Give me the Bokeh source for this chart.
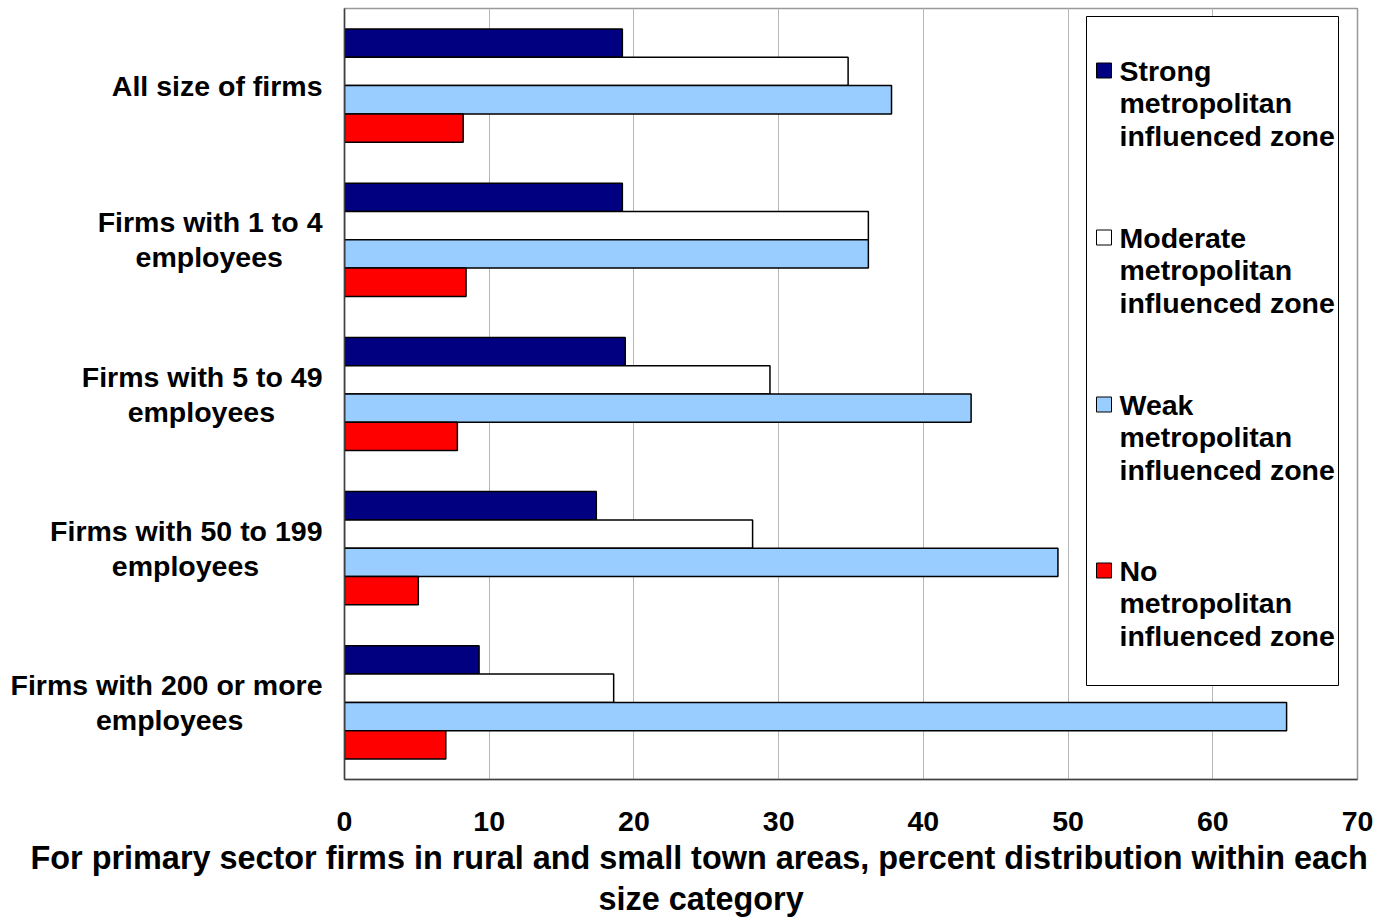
from bokeh.plotting import figure
from bokeh.models import (Range1d, Label, FixedTicker, ColumnDataSource,
                          CustomJSTickFormatter, Title)
from bokeh.transform import dodge
from bokeh.embed import file_html
from bokeh.resources import INLINE

# ---------------- data ----------------
category_lines = [
    ["All size of firms"],
    ["Firms with 1 to 4", "employees"],
    ["Firms with 5 to 49", "employees"],
    ["Firms with 50 to 199", "employees"],
    ["Firms with 200 or more", "employees"],
]
series_lines = [
    ["Strong", "metropolitan", "influenced zone"],
    ["Moderate", "metropolitan", "influenced zone"],
    ["Weak", "metropolitan", "influenced zone"],
    ["No", "metropolitan", "influenced zone"],
]
strong = [19.2, 19.2, 19.4, 17.4, 9.3]
moderate = [34.8, 36.2, 29.4, 28.2, 18.6]
weak = [37.8, 36.2, 43.3, 49.3, 65.1]
no_zone = [8.2, 8.4, 7.8, 5.1, 7.0]
x_ticks = [0, 10, 20, 30, 40, 50, 60, 70]
title_lines = [
    "For primary sector firms in rural and small town areas, percent distribution within each",
    "size category",
]

colors = ["#000080", "#ffffff", "#99ccff", "#ff0000"]
series_values = [strong, moderate, weak, no_zone]

# ---------------- layout ----------------
W, H = 1388, 918
FL, FR, FT, FB = 344, 1357, 8, 779
XMAX = 70
N = len(category_lines)
FONT = "Liberation Sans"
FS = "28.5px"
TFS = "32.4px"
PX_PER_UNIT = (FB - FT) / N

def dx(px):
    return (px - FL) / (FR - FL) * XMAX

def dy(py):
    return (FB - py) / (FB - FT) * N

p = figure(width=W, height=H, output_backend="svg", toolbar_location=None,
           x_range=Range1d(0, XMAX), y_range=Range1d(0, N),
           min_border_left=FL, min_border_right=W - FR,
           min_border_top=FT, min_border_bottom=H - FB)
p.background_fill_color = "white"
p.border_fill_color = "white"
p.outline_line_color = "#999999"
p.outline_line_width = 1.5

p.xaxis.ticker = FixedTicker(ticks=x_ticks)
p.xaxis.major_tick_line_color = None
p.xaxis.minor_tick_line_color = None
p.xaxis.major_tick_out = 0
p.xaxis.major_tick_in = 0
p.xaxis.major_label_standoff = 32
p.xaxis.major_label_text_font = FONT
p.xaxis.major_label_text_font_style = "bold"
p.xaxis.major_label_text_font_size = FS
p.xaxis.major_label_text_color = "black"
p.xaxis.axis_line_color = "#404040"
p.xaxis.axis_line_width = 1.5

# category labels as y-axis tick labels, one tick per text line
ypos = [N - 0.5 - i for i in range(N)]
LINE_GAP = 35 / PX_PER_UNIT
# non-breaking-space padding so that short second lines sit centred under the first
pads = [0, 5, 6, 8, 10]
ticks, texts = [], []
for i, lines in enumerate(category_lines):
    n = len(lines)
    for j, t in enumerate(lines):
        yy = ypos[i] + ((n - 1) / 2 - j) * LINE_GAP
        if j > 0:
            t = t + "\u00a0" * pads[i]
        ticks.append(yy)
        texts.append(t)
order = sorted(range(len(ticks)), key=lambda k: ticks[k])
ticks = [ticks[k] for k in order]
texts = [texts[k] for k in order]

p.yaxis.ticker = FixedTicker(ticks=ticks)
p.yaxis.formatter = CustomJSTickFormatter(args=dict(labels=texts),
                                          code="return labels[index];")
p.yaxis.major_tick_line_color = None
p.yaxis.minor_tick_line_color = None
p.yaxis.major_tick_out = 0
p.yaxis.major_tick_in = 0
p.yaxis.major_label_standoff = 22
p.yaxis.major_label_text_font = FONT
p.yaxis.major_label_text_font_style = "bold"
p.yaxis.major_label_text_font_size = FS
p.yaxis.major_label_text_color = "black"
p.yaxis.axis_line_color = "#404040"
p.yaxis.axis_line_width = 1.5

p.xgrid.ticker = FixedTicker(ticks=x_ticks[1:-1])
p.xgrid.grid_line_color = "#b8b8b8"
p.xgrid.grid_line_width = 1
p.ygrid.visible = False

# bars
bh = 28.3 / PX_PER_UNIT
offsets = [1.5 * bh, 0.5 * bh, -0.5 * bh, -1.5 * bh]
for vals, c, off in zip(series_values, colors, offsets):
    src = ColumnDataSource(dict(y=ypos, v=vals))
    p.hbar(y=dodge("y", off, range=p.y_range), left=0, right="v", height=bh,
           fill_color=c, line_color="black", line_width=1.5, source=src)

# axis title as two titles below the x axis
title_left_px = [30, 598]
title_valign = ["bottom", "top"]
title_standoff = [9, 0]
for t, lx, va, so in zip(title_lines, title_left_px, title_valign, title_standoff):
    p.add_layout(Title(text=t, align="left", offset=lx - FL, vertical_align=va,
                       text_font=FONT, text_font_style="bold",
                       text_font_size=TFS, text_color="black",
                       standoff=so), "below")

# legend (manual)
p.quad(left=[dx(1086)], right=[dx(1338)], top=[dy(16)], bottom=[dy(685)],
       fill_color="white", line_color="black", line_width=1)
item_px = [70, 237, 404, 570]
for k, lines in enumerate(series_lines):
    p.scatter(x=[dx(1103.5)], y=[dy(item_px[k])], marker="square", size=15,
              fill_color=colors[k], line_color="black", line_width=1)
    for j, t in enumerate(lines):
        p.add_layout(Label(x=dx(1119), y=dy(item_px[k] + 32.5 * j), text=t,
                           text_align="left", text_baseline="middle",
                           text_font=FONT, text_font_style="bold",
                           text_font_size=FS, text_color="black"))

open("out.html", "w").write(file_html(p, INLINE))
